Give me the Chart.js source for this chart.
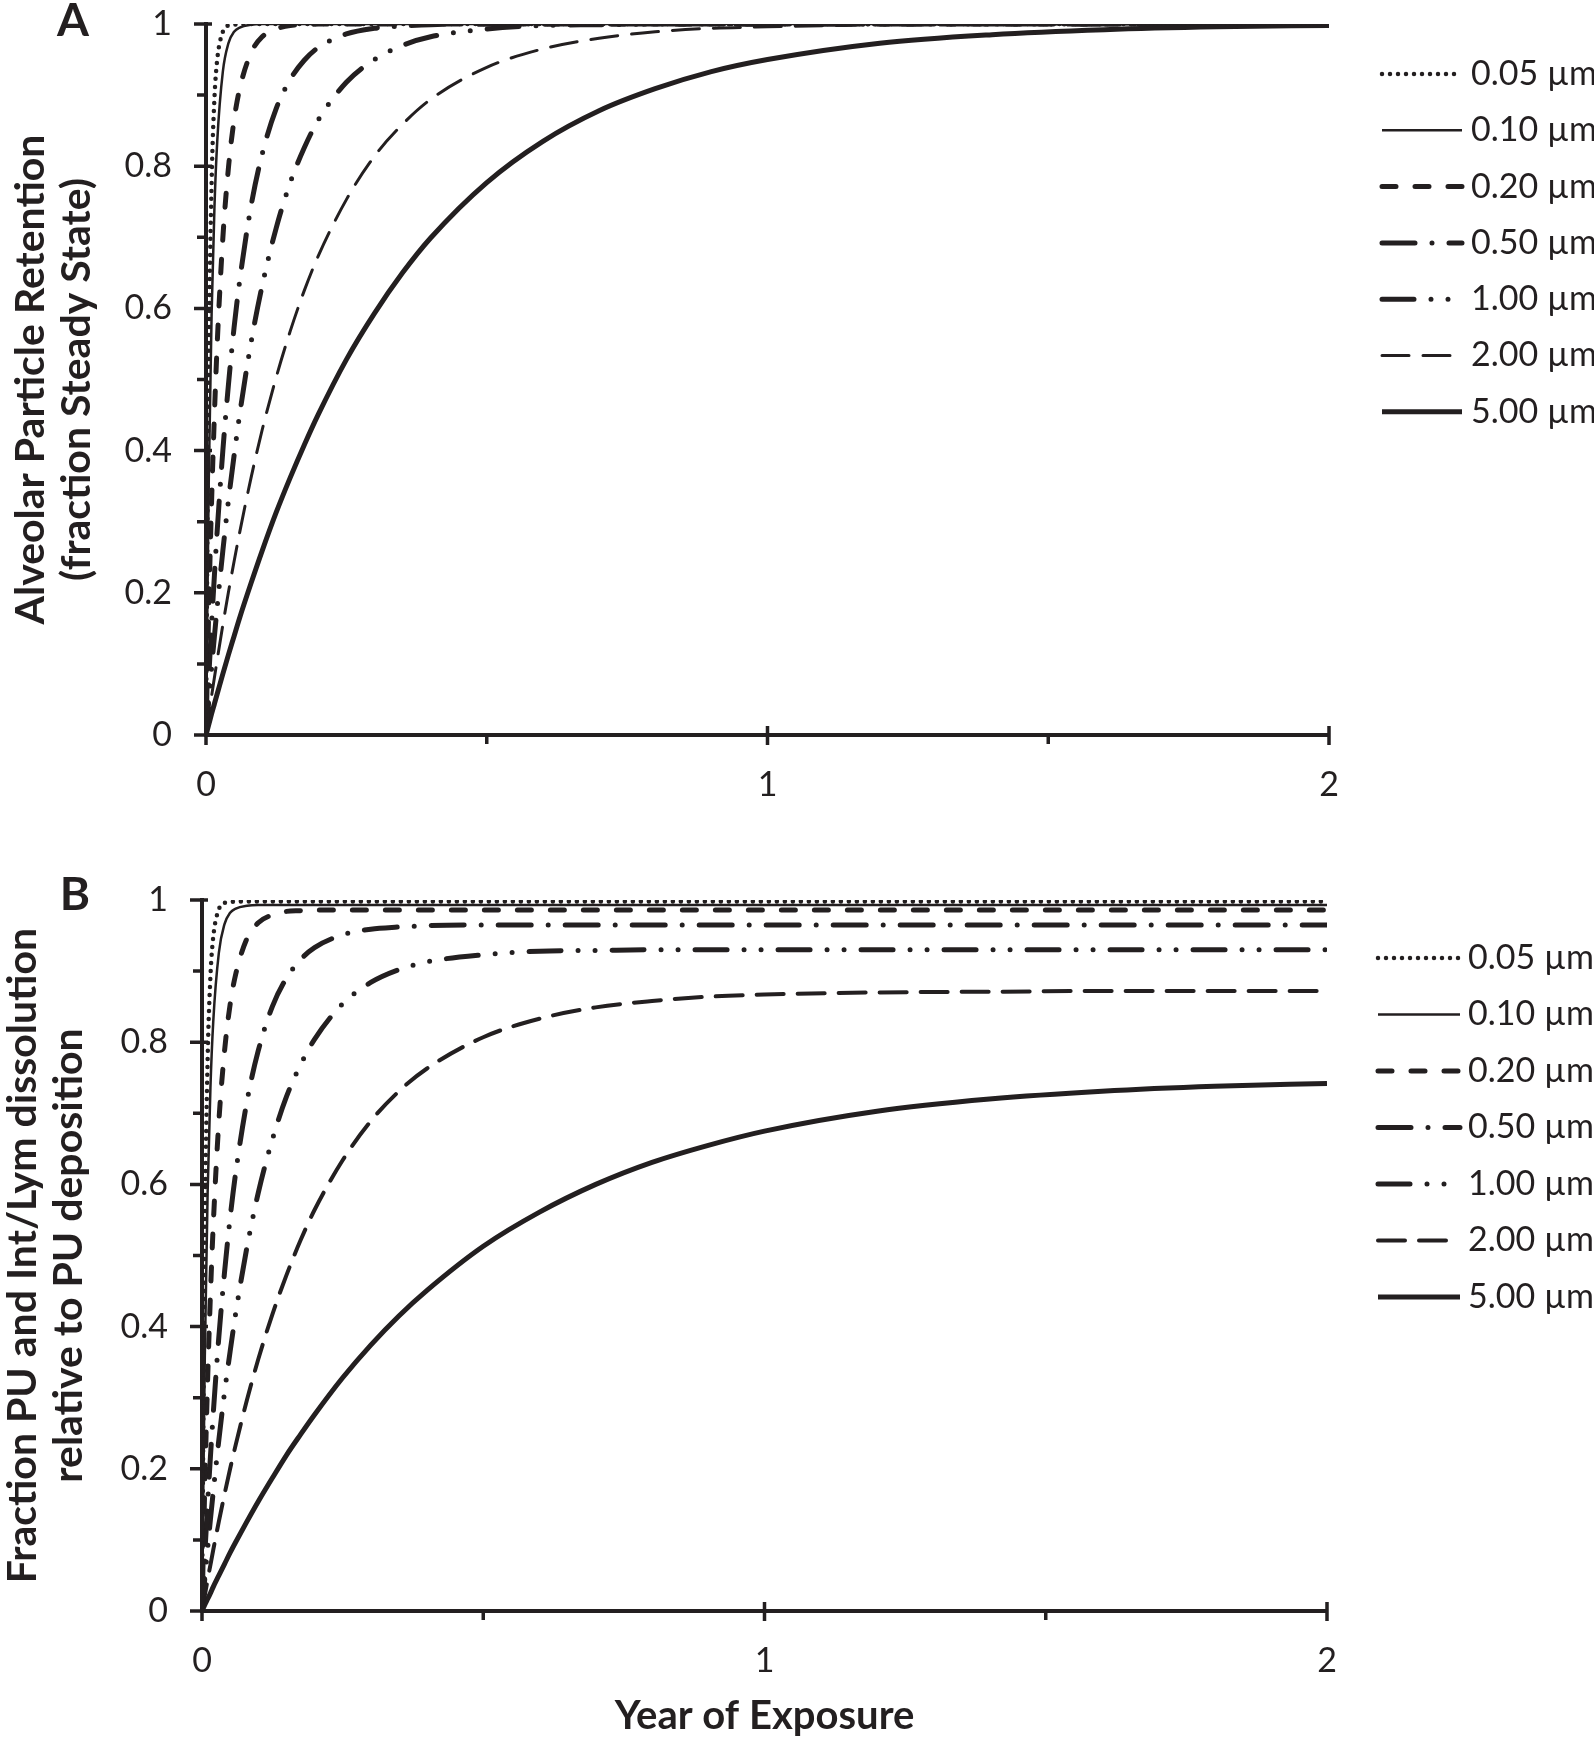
<!DOCTYPE html>
<html>
<head>
<meta charset="utf-8">
<script src="https://cdn.jsdelivr.net/npm/chart.js@4.4.1/dist/chart.umd.min.js"></script>
<style>
  html, body { margin: 0; padding: 0; background: #fff; }
  #wrap { position: relative; width: 1594px; height: 1739px; overflow: hidden; }
  .panel { position: absolute; left: 0; width: 1594px; }
  #panelA { top: 0; height: 830px; }
  #panelB { top: 850px; height: 889px; }
</style>
</head>
<body>
<div id="wrap">
  <div class="panel" id="panelA"><canvas id="chartA"></canvas></div>
  <div class="panel" id="panelB"><canvas id="chartB"></canvas></div>
</div>
<script>
const ink = '#231f20';

// years of exposure at which the curves were read
const years = [0, 0.005, 0.01, 0.015, 0.02, 0.03, 0.04, 0.05, 0.06, 0.08, 0.1, 0.125, 0.15, 0.175, 0.2,
               0.25, 0.3, 0.35, 0.4, 0.5, 0.6, 0.7, 0.8, 0.9, 1.0, 1.2, 1.4, 1.6, 1.8, 2.0];

const sizes = ["0.05 µm", "0.10 µm", "0.20 µm", "0.50 µm", "1.00 µm", "2.00 µm", "5.00 µm"];

// panel A - alveolar retention (fraction of steady state)
const retained005 = [0, 0.528, 0.777, 0.895, 0.950, 0.989, 0.998, 0.999, 1, 1, 1, 1, 1, 1, 1,
                     1, 1, 1, 1, 1, 1, 1, 1, 1, 1, 1, 1, 1, 1, 1];
const retained010 = [0, 0.362, 0.593, 0.741, 0.835, 0.933, 0.973, 0.989, 0.995, 0.999, 1, 1, 1, 1, 1,
                     1, 1, 1, 1, 1, 1, 1, 1, 1, 1, 1, 1, 1, 1, 1];
const retained020 = [0, 0.181, 0.330, 0.451, 0.551, 0.699, 0.798, 0.865, 0.909, 0.959, 0.982, 0.993, 0.998, 0.999, 1,
                     1, 1, 1, 1, 1, 1, 1, 1, 1, 1, 1, 1, 1, 1, 1];
const retained050 = [0, 0.082, 0.156, 0.225, 0.288, 0.400, 0.493, 0.573, 0.639, 0.743, 0.817, 0.881, 0.922, 0.949, 0.967,
                     0.986, 0.994, 0.997, 0.999, 1, 1, 1, 1, 1, 1, 1, 1, 1, 1, 1];
const retained100 = [0, 0.049, 0.095, 0.139, 0.181, 0.259, 0.330, 0.393, 0.451, 0.551, 0.632, 0.713, 0.777, 0.826, 0.865,
                     0.918, 0.950, 0.970, 0.982, 0.993, 0.998, 0.999, 1, 1, 1, 1, 1, 1, 1, 1];
const retained200 = [0, 0.028, 0.055, 0.081, 0.106, 0.155, 0.201, 0.244, 0.285, 0.361, 0.429, 0.503, 0.568, 0.625, 0.674,
                     0.753, 0.814, 0.859, 0.894, 0.939, 0.965, 0.980, 0.989, 0.994, 0.996, 0.999, 1, 1, 1, 1];
const retained500 = [0, 0.015, 0.030, 0.044, 0.058, 0.086, 0.113, 0.139, 0.165, 0.213, 0.259, 0.313, 0.362, 0.408, 0.451,
                     0.528, 0.593, 0.650, 0.699, 0.777, 0.835, 0.878, 0.909, 0.933, 0.950, 0.973, 0.985, 0.992, 0.996, 0.998];

// panel B - PU + Int/Lym dissolution relative to PU deposition
const dissolved005 = [0, 0.527, 0.775, 0.893, 0.948, 0.987, 0.996, 0.997, 0.998, 0.998, 0.998, 0.998, 0.998, 0.998, 0.998,
                      0.998, 0.998, 0.998, 0.998, 0.998, 0.998, 0.998, 0.998, 0.998, 0.998, 0.998, 0.998, 0.998, 0.998, 0.998];
const dissolved010 = [0, 0.359, 0.589, 0.736, 0.829, 0.926, 0.966, 0.982, 0.988, 0.992, 0.993, 0.993, 0.993, 0.993, 0.993,
                      0.993, 0.993, 0.993, 0.993, 0.993, 0.993, 0.993, 0.993, 0.993, 0.993, 0.993, 0.993, 0.993, 0.993, 0.993];
const dissolved020 = [0, 0.178, 0.325, 0.445, 0.543, 0.689, 0.787, 0.853, 0.896, 0.946, 0.968, 0.979, 0.984, 0.985, 0.986,
                      0.986, 0.986, 0.986, 0.986, 0.986, 0.986, 0.986, 0.986, 0.986, 0.986, 0.986, 0.986, 0.986, 0.986, 0.986];
const dissolved050 = [0, 0.079, 0.151, 0.217, 0.278, 0.386, 0.476, 0.553, 0.617, 0.717, 0.788, 0.850, 0.890, 0.916, 0.933,
                      0.951, 0.959, 0.962, 0.964, 0.965, 0.965, 0.965, 0.965, 0.965, 0.965, 0.965, 0.965, 0.965, 0.965, 0.965];
const dissolved100 = [0, 0.046, 0.088, 0.129, 0.168, 0.241, 0.307, 0.365, 0.419, 0.512, 0.588, 0.663, 0.723, 0.768, 0.804,
                      0.854, 0.884, 0.902, 0.913, 0.923, 0.928, 0.929, 0.930, 0.930, 0.930, 0.930, 0.930, 0.930, 0.930, 0.930];
const dissolved200 = [0, 0.022, 0.044, 0.065, 0.086, 0.126, 0.164, 0.200, 0.234, 0.297, 0.354, 0.417, 0.472, 0.521, 0.564,
                      0.634, 0.689, 0.731, 0.763, 0.807, 0.833, 0.849, 0.858, 0.864, 0.867, 0.870, 0.871, 0.872, 0.872, 0.872];
const dissolved500 = [0, 0.009, 0.017, 0.025, 0.034, 0.050, 0.066, 0.082, 0.097, 0.126, 0.154, 0.187, 0.219, 0.248, 0.276,
                      0.328, 0.374, 0.415, 0.451, 0.513, 0.561, 0.600, 0.631, 0.655, 0.675, 0.703, 0.720, 0.731, 0.738, 0.742];

const xMajor = [0, 1, 2];
const xMinor = [0.5, 1.5];
const yMajor = [0, 0.2, 0.4, 0.6, 0.8, 1];
const yMinor = [0.1, 0.3, 0.5, 0.7, 0.9];

// one style per particle size, same order as sizes
const lineStyles = [
  { width: 4.5, dash: [0, 8], cap: 'round' },
  { width: 2.5, dash: [], cap: 'butt' },
  { width: 5, dash: [14, 19], cap: 'round' },
  { width: 5, dash: [33, 17, 0, 17], cap: 'round' },
  { width: 5, dash: [32, 17, 0, 17, 0, 17], cap: 'round' },
  { width: 3.5, dash: [27, 14], cap: 'round' },
  { width: 5, dash: [], cap: 'butt' }
];

const toPoints = vals => years.map((t, i) => ({ x: t, y: vals[i] }));

function buildDatasets(series, thinLong) {
  return series.map((vals, i) => ({
    label: sizes[i],
    data: toPoints(vals),
    borderColor: ink,
    borderWidth: i === 5 ? thinLong : lineStyles[i].width,
    borderDash: lineStyles[i].dash,
    borderCapStyle: lineStyles[i].cap,
    borderJoinStyle: 'round',
    pointRadius: 0,
    fill: false,
    cubicInterpolationMode: 'monotone'
  }));
}

// crossing major ticks, short outside minor ticks
const axisTicks = {
  id: 'axisTicks',
  afterDatasetsDraw(chart) {
    const { ctx, chartArea } = chart;
    const x = chart.scales.x, y = chart.scales.y;
    ctx.save();
    ctx.strokeStyle = ink;
    ctx.lineWidth = 3.5;
    ctx.beginPath();
    xMajor.forEach(v => {
      const px = x.getPixelForValue(v);
      ctx.moveTo(px, chartArea.bottom - 9);
      ctx.lineTo(px, chartArea.bottom + 10);
    });
    xMinor.forEach(v => {
      const px = x.getPixelForValue(v);
      ctx.moveTo(px, chartArea.bottom);
      ctx.lineTo(px, chartArea.bottom + 9);
    });
    yMajor.forEach(v => {
      const py = y.getPixelForValue(v);
      ctx.moveTo(chartArea.left - 12, py);
      ctx.lineTo(chartArea.left + 6, py);
    });
    yMinor.forEach(v => {
      const py = y.getPixelForValue(v);
      ctx.moveTo(chartArea.left - 9, py);
      ctx.lineTo(chartArea.left, py);
    });
    ctx.stroke();
    ctx.restore();
  }
};

// legend at the right, drawn with each dataset's own line style
const sizeLegend = {
  id: 'sizeLegend',
  afterDraw(chart, args, opts) {
    const { ctx, chartArea } = chart;
    ctx.save();
    chart.data.datasets.forEach((ds, i) => {
      const yy = chartArea.top + opts.top + i * opts.gap;
      const x0 = chartArea.right + opts.lineStart;
      const x1 = x0 + opts.lineLength;
      ctx.beginPath();
      ctx.setLineDash(ds.borderDash);
      ctx.lineCap = ds.borderCapStyle;
      ctx.lineWidth = ds.borderWidth;
      ctx.strokeStyle = ink;
      ctx.moveTo(x0, yy);
      ctx.lineTo(x1, yy);
      ctx.stroke();
      ctx.setLineDash([]);
      ctx.fillStyle = ink;
      ctx.font = '34px Lato';
      ctx.textBaseline = 'middle';
      ctx.fillText(ds.label, x1 + opts.textGap, yy);
    });
    ctx.restore();
  }
};

const panelLetter = {
  id: 'panelLetter',
  afterDraw(chart, args, opts) {
    const { ctx } = chart;
    ctx.save();
    ctx.fillStyle = ink;
    ctx.font = 'bold 46px Lato';
    ctx.textAlign = 'center';
    ctx.textBaseline = 'middle';
    ctx.fillText(opts.text, opts.x, opts.y);
    ctx.restore();
  }
};

function makeChart(canvasId, series, p) {
  return new Chart(document.getElementById(canvasId), {
    type: 'line',
    data: { datasets: buildDatasets(series, p.thinLong) },
    plugins: [axisTicks, sizeLegend, panelLetter],
    options: {
      responsive: true,
      maintainAspectRatio: false,
      animation: false,
      events: [],
      layout: { padding: { top: p.top, right: p.right, left: 0, bottom: 0 } },
      scales: {
        x: {
          type: 'linear',
          min: 0,
          max: 2,
          afterBuildTicks: s => { s.ticks = xMajor.map(v => ({ value: v })); },
          afterFit: s => { s.height = p.xHeight; s.paddingLeft = 0; s.paddingRight = 0; },
          grid: { display: false, drawTicks: false },
          border: { display: true, color: ink, width: 4 },
          ticks: { color: ink, padding: 30, maxRotation: 0, callback: v => String(v), font: { family: 'Lato', size: 34 } },
          title: {
            display: !!p.xTitle,
            text: p.xTitle || '',
            color: ink,
            padding: { top: 0, bottom: 0 },
            font: { family: 'Lato', size: 40, weight: 'bold', lineHeight: 1.15 }
          }
        },
        y: {
          type: 'linear',
          min: 0,
          max: 1,
          afterBuildTicks: s => { s.ticks = yMajor.map(v => ({ value: v })); },
          afterFit: s => { s.width = p.yWidth; s.paddingTop = 0; s.paddingBottom = 0; },
          grid: { display: false, drawTicks: false },
          border: { display: true, color: ink, width: 4 },
          ticks: { color: ink, padding: 34, callback: v => String(v), font: { family: 'Lato', size: 34 } },
          title: {
            display: true,
            text: p.yTitle,
            color: ink,
            padding: { top: p.yTitlePad, bottom: 0 },
            font: { family: 'Lato', size: 41, weight: 'bold', lineHeight: 1.12 }
          }
        }
      },
      plugins: {
        legend: { display: false },
        tooltip: { enabled: false },
        sizeLegend: p.legend,
        panelLetter: p.letter
      }
    }
  });
}

makeChart('chartA',
  [retained005, retained010, retained020, retained050, retained100, retained200, retained500],
  {
    top: 24, right: 265, yWidth: 206, xHeight: 95, thinLong: 3,
    yTitle: ['Alveolar Particle Retention', '(fraction Steady State)'], yTitlePad: 8,
    legend: { top: 50, gap: 56.3, lineStart: 53, lineLength: 80, textGap: 9 },
    letter: { text: 'A', x: 73, y: 21 }
  });

makeChart('chartB',
  [dissolved005, dissolved010, dissolved020, dissolved050, dissolved100, dissolved200, dissolved500],
  {
    top: 50, right: 267, yWidth: 202, xHeight: 128, thinLong: 4,
    xTitle: 'Year of Exposure',
    yTitle: ['Fraction PU and Int/Lym dissolution', 'relative to PU deposition'], yTitlePad: 0,
    legend: { top: 58, gap: 56.5, lineStart: 51, lineLength: 82, textGap: 8 },
    letter: { text: 'B', x: 75, y: 45 }
  });
</script>
</body>
</html>
